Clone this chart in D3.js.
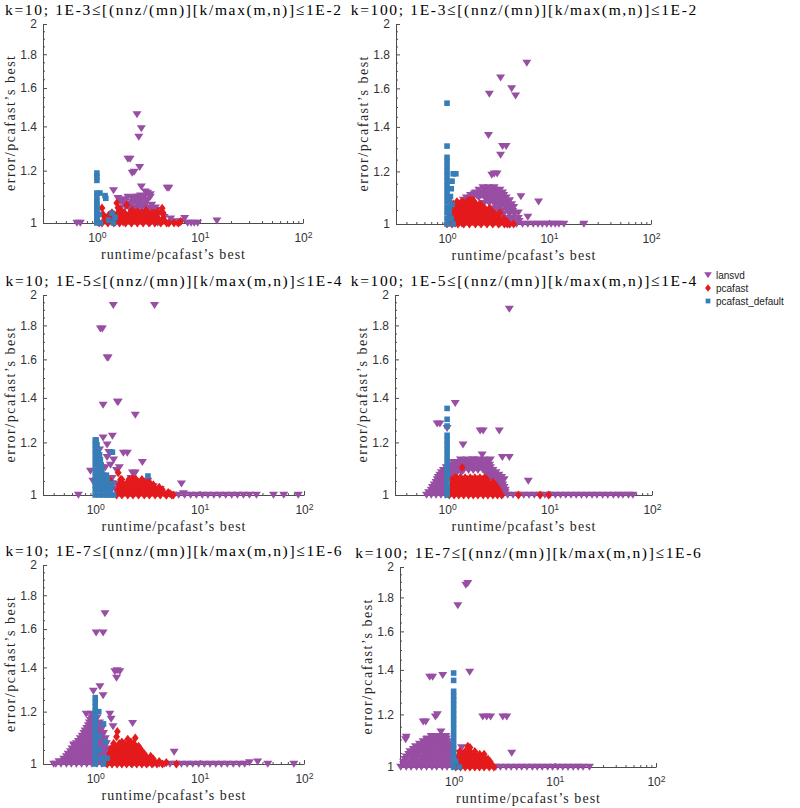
<!DOCTYPE html>
<html><head><meta charset="utf-8">
<script src="https://cdn.jsdelivr.net/npm/d3@7"></script>
<style>body{margin:0;background:#fff}</style>
</head><body>
<svg id="chart" width="800" height="808"></svg>
<script>
const seriesNames = ["lansvd", "pcafast", "pcafast_default"];
const seriesColors = ["#984EA3", "#E41A1C", "#377EB8"];
const panelTitles = [
  "k=10; 1E-3≤[(nnz/(mn)][k/max(m,n)]≤1E-2",
  "k=100; 1E-3≤[(nnz/(mn)][k/max(m,n)]≤1E-2",
  "k=10; 1E-5≤[(nnz/(mn)][k/max(m,n)]≤1E-4",
  "k=100; 1E-5≤[(nnz/(mn)][k/max(m,n)]≤1E-4",
  "k=10; 1E-7≤[(nnz/(mn)][k/max(m,n)]≤1E-6",
  "k=100; 1E-7≤[(nnz/(mn)][k/max(m,n)]≤1E-6"
];
const xLabel = "runtime/pcafast’s best";
const yLabel = "error/pcafast’s best";
const yTickValues = [1, 1.2, 1.4, 1.6, 1.8, 2];
const yTickLabels = ["1", "1.2", "1.4", "1.6", "1.8", "2"];
const yMinorTicks = [1.05,1.1,1.15,1.25,1.3,1.35,1.45,1.5,1.55,1.65,1.7,1.75,1.85,1.9,1.95];
const xTickValues = [1, 10, 100];
const xTickExponents = ["0", "1", "2"];

// Scattered points as [runtime ratio, error ratio]; dense masses as rows [error ratio, [runtime ratios]]
// ---- panel 1: k=10, 1E-3..1E-2
const lansvd_1 = [[0.64,1.0],[0.69,1.0],[1.45,1.12],[1.5,1.0],[1.6,1.09],[1.7,1.08],[1.75,1.04],[1.8,1.0],[1.85,1.085],[1.9,1.06],[2.0,1.25],[2.1,1.25],[2.0,1.07],[2.05,1.02],[2.1,1.05],[2.2,1.19],[2.2,1.09],[2.2,1.0],[2.3,1.195],[2.3,1.035],[2.35,1.08],[2.45,1.46],[2.45,1.055],[2.5,1.07],[2.5,1.095],[2.55,1.35],[2.6,1.215],[2.6,1.02],[2.65,1.1],[2.7,1.39],[2.7,1.135],[2.75,1.04],[2.8,1.09],[2.8,1.0],[2.9,1.06],[2.95,1.115],[3.0,1.015],[3.1,1.11],[3.2,1.05],[3.3,1.105],[3.3,1.0],[3.4,1.03],[3.6,1.045],[3.8,1.046],[3.9,1.0],[4.0,1.035],[4.5,1.02],[4.8,1.13],[5.0,1.13],[5.2,1.015],[5.5,1.005],[6.0,1.0],[6.5,1.005],[7.1,1.017],[7.6,1.0],[8.2,1.0],[8.8,1.0],[9.5,1.0],[14.6,1.008]];
const lansvd_1_mass = [[1.055,[1.7,2.05,2.35,2.7,3.2,3.7]],[1.065,[1.85,2.15,2.5,2.9,3.4]],[1.075,[1.8,2.2,2.6,3.0]],[1.085,[1.9,2.3,2.7,3.1]],[1.095,[2.0,2.4,2.8,3.3]]];
const pcafast_1 = [[1.05,1.0],[1.12,1.054],[1.15,1.03],[1.35,1.03],[1.56,1.072],[1.6,1.055],[1.7,1.045],[1.95,1.065],[2.2,1.045],[2.5,1.04],[3.0,1.045],[3.4,1.035],[3.9,1.04],[4.3,1.053],[4.4,1.035],[5.0,1.0],[5.6,1.0],[6.2,1.0],[6.5,1.005]];
const pcafast_1_mass = [[1.0,[1.12,1.28,1.46,1.66,1.9,2.16,2.47,2.81,3.2,3.65,4.17,4.75]],[1.009,[1.2,1.37,1.56,1.78,2.03,2.31,2.64,3.0,3.4,3.85,4.4]],[1.018,[1.2,1.36,1.56,1.78,2.03,2.3,2.65,3.0,3.45,3.9,4.4]],[1.027,[1.3,1.48,1.68,1.92,2.2,2.5,2.85,3.25,3.7]],[1.036,[1.4,1.6,1.85,2.1,2.4,2.75,3.1,3.6,4.3]]];
const default_1 = [[1,1.0],[1,1.01],[1,1.02],[1,1.03],[1,1.04],[1,1.05],[1,1.06],[1,1.07],[1,1.08],[1,1.095],[1,1.11],[1,1.16],[1,1.175],[1,1.19],[1.05,1.03],[1.07,1.11],[1.08,1.0],[1.2,1.1],[1.22,1.09],[1.3,1.01],[1.4,1.035],[1.45,1.0],[1.5,1.02]];

// ---- panel 2: k=100, 1E-3..1E-2
const lansvd_2 = [[1.45,1.087],[1.7,1.095],[1.85,1.11],[2.55,1.36],[2.6,1.57],[2.75,1.185],[2.9,1.19],[3.1,1.19],[3.35,1.66],[3.35,1.27],[3.5,1.31],[3.8,1.31],[4.0,1.08],[4.3,1.6],[4.3,1.07],[4.5,1.06],[4.7,1.56],[5.0,1.04],[5.3,1.1],[6.06,1.747],[6.2,1.025],[7.9,1.08]];
const lansvd_2_mass = [[1.0,[1.2,1.4,3.3,3.7,4.2,4.8,5.5,6.2,7,7.8,8.6,9.5,10.5,11.5,12.5,14,22]],[1.01,[1.25,3.5,3.95,4.5,5.1]],[1.02,[1.3,3.4,3.9,4.4,5.0]],[1.035,[1.35,3.2,3.6,4.1,4.6]],[1.045,[1.38,3.1,3.45,3.95,4.4]],[1.055,[1.4,2.9,3.3,3.8,4.3]],[1.065,[1.42,3.0,3.4,3.85]],[1.075,[1.45,2.3,2.6,3.0,3.4,3.9]],[1.085,[1.5,2.45,2.8,3.2,3.6,4.1]],[1.095,[1.55,1.8,2.05,2.35,2.65,3.0,3.4,3.8]],[1.105,[1.7,1.95,2.2,2.5,2.85,3.2,3.6]],[1.115,[1.9,2.15,2.45,2.8,3.15,3.5]],[1.125,[2.05,2.35,2.65,3.0,3.3]],[1.135,[2.25,2.55,2.9]]];
const pcafast_2 = [[1.35,1.075],[1.65,1.075],[1.7,1.087],[2.35,1.055],[3.3,1.04],[3.9,1.0],[4.5,1.0]];
const pcafast_2_mass = [[1.0,[1.0,1.12,1.28,1.46,1.66,1.9,2.16,2.47,2.81,3.2,3.65,4.1]],[1.009,[1.06,1.2,1.37,1.56,1.78,2.03,2.31,2.64,3.0,3.4,3.85]],[1.018,[1.02,1.15,1.3,1.5,1.7,1.95,2.2,2.5,2.85,3.2,3.6]],[1.027,[1.08,1.23,1.4,1.6,1.82,2.08,2.37,2.7,3.05]],[1.036,[1.05,1.18,1.35,1.55,1.75,2.0,2.25,2.55,2.9]],[1.045,[1.12,1.27,1.45,1.65,1.88,2.14,2.43,2.75]],[1.055,[1.08,1.22,1.4,1.6,1.8,2.05,2.3,2.6]],[1.064,[1.17,1.34,1.52,1.73,1.97,2.2]],[1.072,[1.15,1.3,1.5,1.7,1.9,2.1]],[1.08,[1.25,1.42,1.62,1.85]],[1.085,[1.6,1.8]]];
const default_2 = [[1,1.52],[1,1.31],[1,1.26],[1,1.24],[1,1.22],[1,1.2],[1,1.18],[1,1.16],[1,1.14],[1,1.12],[1,1.1],[1,1.08],[1,1.06],[1,1.04],[1,1.02],[1,1.0],[1.15,1.19],[1.22,1.19],[1.12,1.16],[1.1,1.13],[1.08,1.1],[1.12,1.07],[1.05,1.04],[1.1,1.02],[1.15,1.0],[1.05,1.09],[1.06,1.06]];

// ---- panel 3: k=10, 1E-5..1E-4
const lansvd_3 = [[0.69,1.0],[0.9,1.087],[0.95,1.05],[1.05,1.12],[1.1,1.17],[1.12,1.78],[1.15,1.1],[1.17,1.78],[1.19,1.366],[1.19,1.22],[1.25,1.1],[1.3,1.61],[1.33,1.61],[1.3,1.19],[1.3,1.14],[1.35,1.16],[1.4,1.11],[1.45,1.06],[1.46,1.227],[1.49,1.93],[1.5,1.13],[1.6,1.09],[1.63,1.38],[1.66,1.38],[1.7,1.1],[1.86,1.157],[2.03,1.157],[2.2,1.06],[2.27,1.08],[2.42,1.08],[2.42,1.32],[2.83,1.12],[3.2,1.05],[3.6,1.03],[3.7,1.93],[4.2,1.02],[6.7,1.04],[7,1.005],[51,1.0],[64,1.0],[88,1.0]];
const lansvd_3_mass = [[1.0,[5.5,6.3,7.2,8.2,9.3,10.6,12,13.7,15.6,17.8,20.3,23,26.3,30,35]],[1.02,[1.4,1.55]],[1.04,[1.45,1.6]]];
const pcafast_3 = [[1.4,1.05],[1.66,1.08],[1.75,1.055],[2.3,1.06],[2.45,1.055],[3.2,1.046],[3.7,1.02],[4.8,1.0],[5.2,1.005],[5.6,1.0]];
const pcafast_3_mass = [[1.0,[1.6,1.8,2.05,2.3,2.6,2.95,3.3,3.75,4.2,4.8,5.4]],[1.009,[1.7,1.92,2.17,2.45,2.75,3.1,3.5,3.95,4.5,5.0]],[1.018,[1.65,1.87,2.1,2.4,2.7,3.05,3.45,3.9,4.4]],[1.027,[1.75,1.98,2.23,2.5,2.8,3.2,3.6,4.1]],[1.036,[1.7,1.95,2.2,2.5,2.85,3.2,3.6]],[1.045,[1.8,2.05,2.3,2.62,2.95,3.3]],[1.055,[1.8,2.1,2.45,2.8]]];
const default_3 = [[1.46,1.16],[3.2,1.068],[1.45,1.04],[1.5,1.0],[1.4,1.02]];
const default_3_mass = [[1.0,[1.0,1.1,1.2,1.3,1.4]],[1.018,[1.0,1.1,1.2,1.3]],[1.035,[1.0,1.1,1.2,1.32]],[1.053,[1.0,1.1,1.2,1.3]],[1.071,[1.0,1.1,1.2,1.28]],[1.09,[1.0,1.08,1.16]],[1.11,[1.0,1.07,1.14]],[1.13,[1.0,1.07,1.12]],[1.15,[1.0,1.06,1.1]],[1.17,[1.0,1.06]],[1.19,[1.0,1.04]],[1.21,[1.0,1.02]]];

// ---- panel 4: k=100, 1E-5..1E-4
const lansvd_4 = [[0.8,1.28],[0.85,1.28],[1.0,1.26],[1.2,1.375],[1.43,1.19],[1.8,1.13],[2.1,1.25],[2.2,1.15],[2.25,1.25],[2.64,1.13],[3.23,1.25],[3.46,1.14],[4.05,1.14],[4.05,1.905],[6.2,1.05]];
const lansvd_4_mass = [[1.0,[0.63,0.7,0.78,0.87,0.97,3.5,3.9,4.4,5.0,5.6,6.3,7.1,8.0,9.0,10.1,11.4,12.8,14.4,16.2,18.2,20.5,23,26,29,33,37,42,47,52,59,65]],[1.009,[0.66,0.74,0.82,0.92,3.4,3.7]],[1.018,[0.7,0.78,0.87,0.97,3.3,3.7]],[1.027,[0.72,0.8,0.9,1.0,3.2,3.6]],[1.036,[0.75,0.84,0.94,3.1,3.5]],[1.045,[0.78,0.87,0.97,3.0,3.35]],[1.055,[0.8,0.9,1.0,2.8,3.2,3.6]],[1.064,[0.82,0.92,1.02,1.14,2.65,3.0,3.4]],[1.072,[0.85,0.95,1.05,1.2,2.5,2.85,3.2]],[1.081,[0.88,0.98,1.1,1.23,1.38,2.4,2.7,3.0]],[1.09,[0.92,1.03,1.15,1.3,1.45,1.62,1.8,2.0,2.25,2.5,2.8]],[1.1,[0.98,1.1,1.25,1.4,1.55,1.72,1.9,2.1,2.35,2.65]],[1.11,[1.05,1.2,1.35,1.5,1.7,1.9,2.1,2.35,2.6]],[1.12,[1.15,1.3,1.45,1.62,1.82,2.02,2.25,2.5]],[1.13,[1.35,1.55,1.8,2.05,2.3]]];
const pcafast_4 = [[1.4,1.1],[1.25,1.06],[4.97,1.0],[8.1,1.0],[9.8,1.0]];
const pcafast_4_mass = [[1.0,[1.05,1.17,1.3,1.45,1.62,1.8,2.0,2.25,2.5,2.8,3.1,3.4]],[1.009,[1.1,1.23,1.37,1.53,1.71,1.9,2.12,2.37,2.65,2.95,3.25]],[1.018,[1.08,1.2,1.34,1.5,1.67,1.86,2.07,2.3,2.56,2.85,3.2]],[1.027,[1.13,1.26,1.41,1.58,1.76,1.96,2.19,2.44,2.72,3.05]],[1.036,[1.1,1.23,1.38,1.54,1.72,1.92,2.14,2.38,2.65,2.95]],[1.045,[1.16,1.3,1.45,1.62,1.81,2.02,2.25,2.5,2.8]],[1.055,[1.12,1.26,1.42,1.58,1.77,1.98,2.2,2.45]],[1.062,[1.2,1.34,1.5,1.68,1.87,2.09,2.32]]];
const default_4 = [[1,1.35],[1,1.3],[1,1.27],[1,1.23],[1,1.21],[1,1.19],[1,1.17],[1,1.15],[1,1.13],[1,1.11],[1,1.09],[1,1.07],[1,1.05],[1,1.03],[1,1.01],[1,1.0]];

// ---- panel 5: k=10, 1E-7..1E-6
const lansvd_5 = [[0.4,1.0],[0.62,1.07],[0.72,1.057],[0.82,1.19],[0.92,1.19],[0.96,1.29],[1.02,1.58],[1.11,1.31],[1.19,1.58],[1.19,1.27],[1.24,1.69],[1.38,1.19],[1.42,1.17],[1.48,1.14],[1.54,1.38],[1.6,1.35],[1.62,1.385],[1.72,1.38],[2.28,1.153],[5.7,1.043],[30,1.005],[36,1.008],[45,1.0],[80,1.0]];
const lansvd_5_mass = [[1.0,[0.42,0.47,0.53,0.59,0.66,0.74,0.83,0.93,1.04,1.16,1.3,1.45,1.62,1.8,2.0,2.2,2.5,2.8,3.2,3.6,4.1,4.6,5.2,5.9,6.7,7.6,8.6,9.8,11.1,12.6,14.3,16.2,18.4,21,24,27]],[1.009,[0.45,0.5,0.56,0.62,0.7,0.78,0.88,0.98,1.1,1.23,1.37]],[1.018,[0.5,0.56,0.63,0.7,0.78,0.87,0.97,1.08,1.2,1.35]],[1.027,[0.53,0.59,0.66,0.74,0.82,0.92,1.02,1.14,1.27]],[1.036,[0.55,0.62,0.69,0.77,0.86,0.96,1.08,1.2,1.35]],[1.045,[0.58,0.65,0.73,0.81,0.91,1.02,1.14,1.28]],[1.055,[0.6,0.67,0.75,0.84,0.94,1.05,1.18,1.32]],[1.064,[0.63,0.7,0.78,0.88,0.98,1.1,1.23]],[1.074,[0.66,0.74,0.82,0.92,1.03,1.15,1.28]],[1.083,[0.69,0.77,0.86,0.96,1.07,1.2]],[1.093,[0.72,0.8,0.9,1.0,1.12,1.25]],[1.103,[0.75,0.84,0.93,1.04,1.16]],[1.113,[0.78,0.87,0.97,1.08,1.2]],[1.123,[0.8,0.9,1.0,1.12]],[1.133,[0.83,0.93,1.04,1.16]],[1.144,[0.86,0.96,1.07]],[1.155,[0.88,0.98,1.1]],[1.165,[0.9,1.0]],[1.175,[0.92,1.04]]];
const pcafast_5 = [[1.6,1.1],[1.63,1.12],[1.8,1.08],[2.05,1.09],[2.2,1.08],[2.42,1.095],[4.8,1.005],[6.0,1.0]];
const pcafast_5_mass = [[1.0,[1.3,1.45,1.62,1.8,2.0,2.25,2.5,2.8,3.1,3.5,3.9,4.4]],[1.009,[1.37,1.53,1.71,1.9,2.12,2.37,2.65,2.95,3.3,3.7,4.1]],[1.018,[1.33,1.5,1.67,1.86,2.07,2.3,2.57,2.87,3.2,3.6]],[1.027,[1.4,1.58,1.76,1.96,2.19,2.44,2.72,3.05,3.4]],[1.036,[1.37,1.54,1.72,1.92,2.14,2.38,2.65,2.95]],[1.045,[1.45,1.62,1.81,2.02,2.25,2.5,2.8]],[1.055,[1.42,1.58,1.77,1.98,2.2,2.45,2.7]],[1.064,[1.55,1.73,1.94,2.15,2.4,2.6]],[1.074,[1.5,1.7,1.9,2.1,2.35]]];
const default_5 = [[1,1.26],[1,1.24],[1,1.22],[1,1.2],[1,1.18],[1,1.16],[1,1.14],[1,1.12],[1,1.1],[1,1.08],[1,1.06],[1,1.04],[1,1.02],[1,1.0],[1.08,1.2],[1.08,1.1],[1.1,1.05],[1.15,1.02],[1.2,1.0],[1.2,1.15],[1.25,1.08],[1.3,1.02]];

// ---- panel 6: k=100, 1E-7..1E-6
const lansvd_6 = [[0.335,1.1],[0.34,1.11],[0.5,1.17],[0.53,1.17],[0.54,1.1],[0.58,1.366],[0.62,1.366],[0.66,1.19],[0.69,1.2],[0.75,1.13],[0.78,1.375],[1.1,1.75],[1.15,1.05],[1.2,1.07],[1.3,1.04],[1.32,1.88],[1.38,1.89],[1.44,1.39],[1.94,1.19],[2.12,1.19],[2.32,1.19],[3.06,1.19],[3.35,1.19],[3.75,1.05]];
const lansvd_6_mass = [[1.0,[0.3,0.34,0.38,0.43,0.48,0.54,0.61,0.68,0.77,0.86,0.97,2.6,2.9,3.3,3.7,4.2,4.7,5.3,6,6.7,7.5,8.5,9.5,10.7,12,13.5,15.2,17,19,22]],[1.009,[0.32,0.36,0.4,0.45,0.51,0.57,0.64,0.72,0.81,0.91]],[1.018,[0.32,0.36,0.4,0.45,0.51,0.57,0.64,0.72,0.81,0.91]],[1.027,[0.33,0.38,0.42,0.48,0.54,0.6,0.68,0.76,0.85,0.95]],[1.036,[0.34,0.38,0.43,0.48,0.54,0.61,0.68,0.77,0.86,0.96]],[1.045,[0.36,0.4,0.45,0.51,0.57,0.64,0.72,0.81,0.9]],[1.055,[0.37,0.41,0.46,0.52,0.58,0.65,0.73,0.82,0.92]],[1.064,[0.4,0.44,0.5,0.56,0.62,0.7,0.78,0.87,0.97]],[1.074,[0.42,0.47,0.53,0.59,0.66,0.74,0.83,0.93]],[1.083,[0.46,0.52,0.58,0.65,0.73,0.82,0.9]],[1.093,[0.5,0.56,0.63,0.7,0.78,0.87]],[1.103,[0.55,0.62,0.69,0.77,0.85]],[1.113,[0.6,0.67,0.75,0.84]]];
const pcafast_6 = [[1.38,1.075],[1.45,1.07],[2.0,1.035]];
const pcafast_6_mass = [[1.0,[1.05,1.17,1.3,1.45,1.62,1.8,2.0,2.25,2.5]],[1.009,[1.1,1.23,1.37,1.53,1.71,1.9,2.12,2.37]],[1.018,[1.08,1.2,1.34,1.5,1.67,1.86,2.07,2.3]],[1.027,[1.13,1.26,1.41,1.58,1.76,1.96,2.19]],[1.036,[1.1,1.23,1.38,1.54,1.72,1.92]],[1.045,[1.16,1.3,1.45,1.62,1.81,2.0]],[1.055,[1.15,1.3,1.45,1.62]]];
const default_6 = [[1,1.385],[1,1.35],[1,1.3],[1,1.28],[1,1.26],[1,1.24],[1,1.22],[1,1.2],[1,1.18],[1,1.16],[1,1.14],[1,1.12],[1,1.1],[1,1.08],[1,1.06],[1,1.04],[1,1.02],[1,1.0],[1.05,1.02],[1.14,1.0]];

const rowsToPoints = rows => rows.flatMap(([yv, xs]) => xs.map(xv => [xv, yv]));
const panelData = [
  [lansvd_1.concat(rowsToPoints(lansvd_1_mass)), pcafast_1.concat(rowsToPoints(pcafast_1_mass)), default_1],
  [lansvd_2.concat(rowsToPoints(lansvd_2_mass)), pcafast_2.concat(rowsToPoints(pcafast_2_mass)), default_2],
  [lansvd_3.concat(rowsToPoints(lansvd_3_mass)), pcafast_3.concat(rowsToPoints(pcafast_3_mass)), default_3.concat(rowsToPoints(default_3_mass))],
  [lansvd_4.concat(rowsToPoints(lansvd_4_mass)), pcafast_4.concat(rowsToPoints(pcafast_4_mass)), default_4],
  [lansvd_5.concat(rowsToPoints(lansvd_5_mass)), pcafast_5.concat(rowsToPoints(pcafast_5_mass)), default_5],
  [lansvd_6.concat(rowsToPoints(lansvd_6_mass)), pcafast_6.concat(rowsToPoints(pcafast_6_mass)), default_6]
];

// layout (pixels) of each axes box and its x lower limit
const layout = [
  {x0:43, x1:303, y0:24, y1:223, xMin:0.3},
  {x0:396, x1:651, y0:24, y1:224, xMin:0.316},
  {x0:43, x1:304, y0:295, y1:495, xMin:0.316},
  {x0:395, x1:652, y0:295, y1:495, xMin:0.31},
  {x0:43, x1:304, y0:565, y1:764, xMin:0.316},
  {x0:400, x1:656, y0:567, y1:767, xMin:0.295}
];

const svg = d3.select("#chart");
const serif = "'Liberation Serif','Times New Roman',serif";
const sans = "'Liberation Sans',Arial,Helvetica,sans-serif";
const axisColor = "#4d4d4d";
const textColor = "#333";

function natWidth(text, family, size) {
  const t = svg.append("text").attr("font-family", family).attr("font-size", size).text(text);
  const w = t.node().getComputedTextLength();
  t.remove();
  return w;
}
const titleFont = 15.5, labelFont = 14;
const titleScale = 336 / natWidth(panelTitles[0], serif, titleFont);
const xLabLen = 144, yLabLen = 135;

const shapes = [
  "M-4.5,-3.2L4.5,-3.2L0,3.8Z",
  "M0,-4.5L3.4,0L0,4.5L-3.4,0Z",
  "M-2.8,-2.8H2.8V2.8H-2.8Z"
];

layout.forEach((L, i) => {
  const x = d3.scaleLog().domain([L.xMin, 100]).range([L.x0, L.x1]);
  const y = d3.scaleLog().domain([1, 2]).range([L.y1, L.y0]);
  const g = svg.append("g");

  g.append("g").attr("transform", `translate(${L.x0},0)`)
    .call(d3.axisLeft(y).tickValues(yTickValues).tickSizeInner(-4).tickSizeOuter(0).tickPadding(6)
      .tickFormat((d, k) => yTickLabels[k]));
  const yMinor = g.append("g").attr("transform", `translate(${L.x0},0)`)
    .call(d3.axisLeft(y).tickValues(yMinorTicks).tickSizeInner(-2).tickSizeOuter(0).tickFormat(""));
  yMinor.select(".domain").remove();

  const xAxis = g.append("g").attr("transform", `translate(0,${L.y1})`)
    .call(d3.axisBottom(x).tickValues(xTickValues).tickSizeInner(-4).tickSizeOuter(0).tickFormat(""));
  xAxis.selectAll(".tick text").each(function(d, k) {
    const t = d3.select(this);
    t.attr("y", 19).attr("dy", null);
    t.append("tspan").text("10");
    t.append("tspan").attr("dy", "-0.5em").attr("font-size", "0.72em").text(xTickExponents[k]);
  });
  const minorX = x.ticks().filter(v => xTickValues.indexOf(v) < 0 && v >= L.xMin);
  const xMinor = g.append("g").attr("transform", `translate(0,${L.y1})`)
    .call(d3.axisBottom(x).tickValues(minorX).tickSizeInner(-2).tickSizeOuter(0).tickFormat(""));
  xMinor.select(".domain").remove();

  g.selectAll(".domain, .tick line").attr("stroke", axisColor).attr("stroke-width", 1);
  g.selectAll(".tick text").attr("fill", textColor).attr("font-family", sans).attr("font-size", 12);

  const cx = (L.x0 + L.x1) / 2, cy = (L.y0 + L.y1) / 2;
  const tw = natWidth(panelTitles[i], serif, titleFont) * titleScale;
  g.append("text").attr("x", cx).attr("y", L.y0 - 9).attr("text-anchor", "middle")
    .attr("font-family", serif).attr("font-size", titleFont).attr("fill", "#000")
    .attr("textLength", tw).attr("lengthAdjust", "spacing").text(panelTitles[i]);
  g.append("text").attr("x", cx).attr("y", L.y1 + 36).attr("text-anchor", "middle")
    .attr("font-family", serif).attr("font-size", labelFont).attr("fill", "#262626")
    .attr("textLength", xLabLen).attr("lengthAdjust", "spacing").text(xLabel);
  g.append("text").attr("transform", `translate(${L.x0 - 28},${cy}) rotate(-90)`).attr("text-anchor", "middle")
    .attr("font-family", serif).attr("font-size", labelFont).attr("fill", "#262626")
    .attr("textLength", yLabLen).attr("lengthAdjust", "spacing").text(yLabel);

  panelData[i].forEach((arr, s) => {
    g.append("g").selectAll("path").data(arr).join("path")
      .attr("d", shapes[s])
      .attr("transform", d => `translate(${x(d[0])},${y(d[1])})`)
      .attr("fill", seriesColors[s]);
  });
});

const leg = svg.append("g").attr("transform", "translate(708,275)");
seriesNames.forEach((name, s) => {
  const row = leg.append("g").attr("transform", `translate(0,${s * 13})`);
  row.append("path").attr("d", shapes[s]).attr("fill", seriesColors[s]).attr("transform", "scale(0.85)");
  row.append("text").attr("x", 8).attr("y", 3.5).attr("font-family", sans).attr("font-size", 10)
    .attr("fill", "#222").text(name);
});
</script>
</body></html>
